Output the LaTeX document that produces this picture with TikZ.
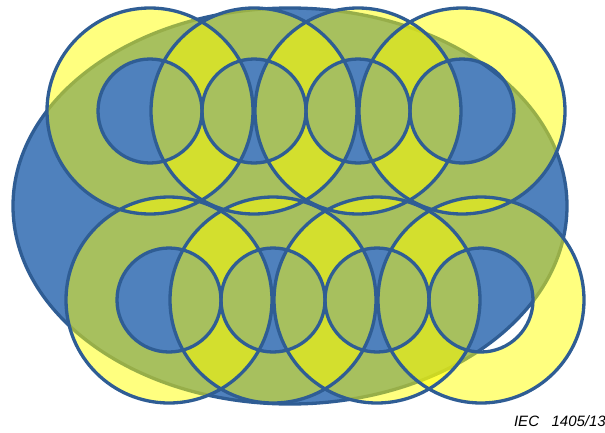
\documentclass[tikz,border=0pt]{standalone}
\usepackage{fontspec}
\newfontfamily\labelfont{Liberation Sans}
\usepackage{xcolor}
\usepackage{tikz}
\usetikzlibrary{positioning}
\definecolor{areac}{HTML}{4F81BD}
\definecolor{edgec}{HTML}{2F5D94}
\definecolor{ringc}{HTML}{FFFF00}
\tikzset{
  outl/.style={draw=edgec,line width=3.3pt},
  ring/.style={fill=ringc,fill opacity=0.5,even odd rule},
  tag/.style={font=\labelfont\itshape\fontsize{15}{17}\selectfont,inner sep=0pt}
}
\begin{document}
\begin{tikzpicture}[x=1pt,y=-1pt]
\useasboundingbox (0,0) rectangle (605,432);
% covered area
\filldraw[fill=areac,outl] (290,206) ellipse (277 and 198);
% rings: two rows of four
\foreach \cx/\cy in {150/111,254/111,358/111,462/111,169/300,273/300,377/300,481/300}
  \fill[ring] (\cx,\cy) circle (103) (\cx,\cy) circle (52);
\foreach \cx/\cy in {150/111,254/111,358/111,462/111,169/300,273/300,377/300,481/300}
  \draw[outl] (\cx,\cy) circle (103) (\cx,\cy) circle (52);
\node[tag,anchor=south east] (code) at (606,427) {IEC\ \ \ 1405/13};
\end{tikzpicture}
\end{document}
